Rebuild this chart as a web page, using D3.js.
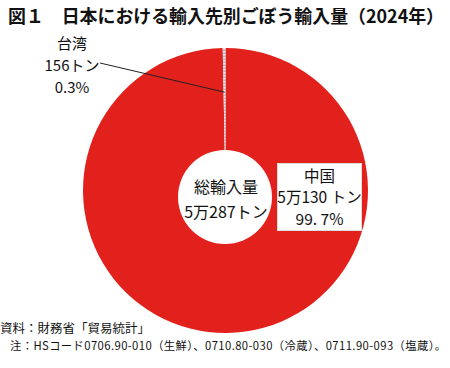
<!DOCTYPE html>
<html><head><meta charset="utf-8">
<script src="https://cdn.jsdelivr.net/npm/d3@7"></script>
<style>
body{margin:0;background:#fff;}
text{font-family:"Noto Sans CJK JP","Noto Sans",sans-serif;fill:#111;}
</style></head>
<body><svg id="c" width="450" height="368"></svg>
<script>
const categories = ["中国", "台湾"];
const values = [50130, 156];
const shares = ["99. 7%", "0.3%"];
const valueLabels = ["5万130 トン", "156トン"];
const totalLabel = ["総輸入量", "5万287トン"];
const title = "図１　日本における輸入先別ごぼう輸入量（2024年）";
const notes = ["資料：財務省「貿易統計」", "注：HSコード0706.90-010（生鮮）、0710.80-030（冷蔵）、0711.90-093（塩蔵）。"];

const svg = d3.select("#c");
const defs = svg.append("defs");
const pat = defs.append("pattern").attr("id","dots").attr("width",2).attr("height",3).attr("patternUnits","userSpaceOnUse");
pat.append("rect").attr("width",2).attr("height",3).attr("fill","#fff");
pat.append("rect").attr("width",2).attr("height",1.5).attr("fill","#9a9ab0");

const cx = 225.5, cy = 190.5, R = 142.5;
const pie = d3.pie().sort(null).value(d => d)(values);
const arc = d3.arc().innerRadius(0).outerRadius(R);
const colors = ["#e3211c", "url(#dots)"];
const g = svg.append("g").attr("transform", `translate(${cx},${cy})`);
g.selectAll("path").data(pie).join("path")
  .attr("d", arc).attr("fill", (d,i) => colors[i]);

// center circle
svg.append("circle").attr("cx",225).attr("cy",197).attr("r",47).attr("fill","#fff");
svg.append("text").attr("x",226).attr("y",193).attr("text-anchor","middle").attr("font-size",16).text(totalLabel[0]);
svg.append("text").attr("x",226).attr("y",218).attr("text-anchor","middle").attr("font-size",16).text(totalLabel[1]);

// China box
svg.append("rect").attr("x",277.5).attr("y",163.5).attr("width",84).attr("height",67).attr("fill","#fff").attr("stroke","#ddd").attr("stroke-width",1);
[categories[0], valueLabels[0], shares[0]].forEach((t,i)=>{
  svg.append("text").attr("x",319.5).attr("y",181.5+i*21.5).attr("text-anchor","middle").attr("font-size",15.5).text(t);
});

// Taiwan label
[categories[1], valueLabels[1], shares[1]].forEach((t,i)=>{
  svg.append("text").attr("x",72).attr("y",49+i*22).attr("text-anchor","middle").attr("font-size",15).text(t);
});
// leader line to Taiwan slice
const mid = (pie[1].startAngle + pie[1].endAngle)/2;
const rr = R*0.69;
svg.append("line").attr("x1",100).attr("y1",63)
  .attr("x2", cx + Math.sin(mid)*rr).attr("y2", cy - Math.cos(mid)*rr)
  .attr("stroke","#222").attr("stroke-width",1);

// title
svg.append("text").attr("x",8).attr("y",23).attr("font-size",18).attr("font-weight","bold")
  .attr("textLength",436).attr("lengthAdjust","spacingAndGlyphs").text(title);

// notes
svg.append("text").attr("x",0).attr("y",333).attr("font-size",12.5).text(notes[0]);
svg.append("text").attr("x",10).attr("y",350).attr("font-size",11.3).attr("letter-spacing",0.4).text(notes[1]);
</script></body></html>
